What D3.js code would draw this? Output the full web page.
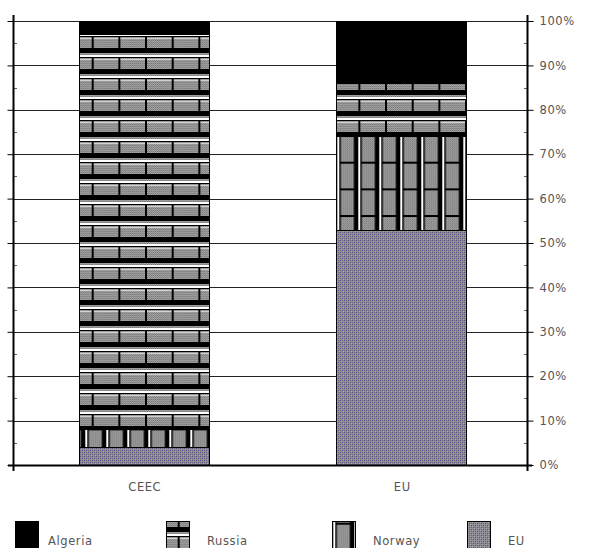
<!DOCTYPE html>
<html>
<head>
<meta charset="utf-8">
<script src="https://cdn.jsdelivr.net/npm/d3@7"></script>
<style>
  html, body { margin: 0; padding: 0; background: #fff; }
  svg { display: block; }
  text { font-family: "DejaVu Sans", sans-serif; fill: #555; }
</style>
</head>
<body>
<svg id="chart" width="591" height="548"></svg>
<script>
// ---- data ----
const categories = ["CEEC", "EU"];
const series = ["EU", "Norway", "Russia", "Algeria"];          // stacking order, bottom to top
const valuesEU      = [4, 53];
const valuesNorway  = [4, 21];
const valuesRussia  = [89, 12];
const valuesAlgeria = [3, 14];
const tickValues = [0, 10, 20, 30, 40, 50, 60, 70, 80, 90, 100];
const tickLabels = ["0%", "10%", "20%", "30%", "40%", "50%", "60%", "70%", "80%", "90%", "100%"];
const legendOrder = ["Algeria", "Russia", "Norway", "EU"];

const seriesValues = { EU: valuesEU, Norway: valuesNorway, Russia: valuesRussia, Algeria: valuesAlgeria };
const table = categories.map((c, i) => {
  const row = { cat: c };
  series.forEach(s => row[s] = seriesValues[s][i]);
  return row;
});

const svg = d3.select("#chart");
const defs = svg.append("defs");

// gray dotted texture
const dots = defs.append("pattern").attr("id", "dots").attr("patternUnits", "userSpaceOnUse")
  .attr("width", 2).attr("height", 2);
dots.append("rect").attr("width", 2).attr("height", 2).attr("fill", "#adadad");
dots.append("rect").attr("width", 1).attr("height", 1).attr("fill", "#6e6e6e");
dots.append("rect").attr("x", 1).attr("y", 1).attr("width", 1).attr("height", 1).attr("fill", "#808080");

// EU: gray/purple dots
const pEU = defs.append("pattern").attr("id", "pEU").attr("patternUnits", "userSpaceOnUse")
  .attr("width", 4).attr("height", 4);
pEU.append("rect").attr("width", 4).attr("height", 4).attr("fill", "#8f8c94");
pEU.append("rect").attr("width", 1).attr("height", 1).attr("fill", "#5e4aa0");
pEU.append("rect").attr("x", 2).attr("y", 2).attr("width", 1).attr("height", 1).attr("fill", "#5e4aa0");
pEU.append("rect").attr("x", 2).attr("y", 0).attr("width", 1).attr("height", 1).attr("fill", "#6a6a6a");
pEU.append("rect").attr("x", 0).attr("y", 2).attr("width", 1).attr("height", 1).attr("fill", "#6a6a6a");
pEU.append("rect").attr("x", 1).attr("y", 1).attr("width", 1).attr("height", 1).attr("fill", "#a8a4b0");
pEU.append("rect").attr("x", 3).attr("y", 3).attr("width", 1).attr("height", 1).attr("fill", "#a8a4b0");

// Russia: horizontal brick bands
const rw = 80 / 3, rh = 21;
const pR = defs.append("pattern").attr("id", "pRussia").attr("patternUnits", "userSpaceOnUse")
  .attr("width", rw).attr("height", rh).attr("x", 11.7).attr("y", 13);
pR.append("rect").attr("width", rw).attr("height", rh).attr("fill", "url(#dots)");
pR.append("rect").attr("y", 0).attr("width", rw).attr("height", 2).attr("fill", "#fff");
pR.append("rect").attr("y", 2).attr("width", rw).attr("height", 1).attr("fill", "#000");
pR.append("rect").attr("y", 4).attr("width", rw).attr("height", 1).attr("fill", "#d0d0d0");
pR.append("rect").attr("y", 14).attr("width", rw).attr("height", 5).attr("fill", "#000");
pR.append("rect").attr("x", 0).attr("y", 2).attr("width", 2).attr("height", 17).attr("fill", "#000");

// Norway: vertical brick bands
const nw = 21, nh = 80 / 3;
const pN = defs.append("pattern").attr("id", "pNorway").attr("patternUnits", "userSpaceOnUse")
  .attr("width", nw).attr("height", nh).attr("x", 1.3).attr("y", 1.7);
pN.append("rect").attr("width", nw).attr("height", nh).attr("fill", "url(#dots)");
pN.append("rect").attr("x", 0).attr("width", 2).attr("height", nh).attr("fill", "#fff");
pN.append("rect").attr("x", 2).attr("width", 1.5).attr("height", nh).attr("fill", "#000");
pN.append("rect").attr("x", 16.5).attr("width", 4.5).attr("height", nh).attr("fill", "#000");
pN.append("rect").attr("x", 2).attr("y", 0).attr("width", 19).attr("height", 2).attr("fill", "#000");

const fills = { EU: "url(#pEU)", Norway: "url(#pNorway)", Russia: "url(#pRussia)", Algeria: "#000" };

// ---- scales ----
const xLeft = 13, xRight = 527;
const half = d3.scaleBand().domain(categories).range([15, 530]);
const barW = 130;
const y = d3.scaleLinear().domain([0, 100]).range([465, 21]);

// ---- grid lines ----
svg.append("g").selectAll("line").data(tickValues).join("line")
  .attr("x1", xLeft).attr("x2", xRight)
  .attr("y1", d => Math.round(y(d)) + 0.5).attr("y2", d => Math.round(y(d)) + 0.5)
  .attr("stroke", "#222").attr("stroke-width", 1);

// ---- bars ----
const stack = d3.stack().keys(series)(table);
const barG = svg.append("g");
stack.forEach(layer => {
  barG.append("g").selectAll("rect").data(layer).join("rect")
    .attr("x", d => Math.round(half(d.data.cat) + half.bandwidth() / 2 - barW / 2) + 0.5)
    .attr("width", barW)
    .attr("y", d => Math.round(y(d[1])) + 0.5)
    .attr("height", d => Math.round(y(d[0])) - Math.round(y(d[1])))
    .attr("fill", fills[layer.key])
    .attr("stroke", "#000").attr("stroke-width", 1);
});

// ---- axes ----
const yAxisL = d3.axisLeft(y).tickValues(tickValues).tickSize(6).tickFormat("");
const gL = svg.append("g").attr("transform", `translate(${xLeft + 0.5},0)`).call(yAxisL);
const yAxisR = d3.axisRight(y).tickValues(tickValues).tickSize(6)
  .tickFormat((d, i) => tickLabels[i]);
const gR = svg.append("g").attr("transform", `translate(${xRight + 0.5},0)`).call(yAxisR);
[gL, gR].forEach(g => {
  g.select(".domain").remove();
  g.selectAll(".tick line").attr("stroke", "#000").attr("stroke-width", 1);
});
gR.selectAll(".tick text").attr("x", 12).attr("font-size", 11.5).attr("letter-spacing", 0.6)
  .attr("fill", "#555").attr("font-family", "DejaVu Sans, sans-serif");
// minor ticks
const minor = d3.range(5, 100, 10);
svg.append("g").selectAll("line").data(minor).join("line")
  .attr("x1", xLeft + 1).attr("x2", xLeft + 4)
  .attr("y1", d => Math.round(y(d)) + 0.5).attr("y2", d => Math.round(y(d)) + 0.5)
  .attr("stroke", "#666");
svg.append("g").selectAll("line").data(minor).join("line")
  .attr("x1", xRight - 3).attr("x2", xRight)
  .attr("y1", d => Math.round(y(d)) + 0.5).attr("y2", d => Math.round(y(d)) + 0.5)
  .attr("stroke", "#666");
// axis spines
svg.append("line").attr("x1", xLeft + 0.5).attr("x2", xLeft + 0.5).attr("y1", 15).attr("y2", 471)
  .attr("stroke", "#000").attr("stroke-width", 2);
svg.append("line").attr("x1", xRight + 0.5).attr("x2", xRight + 0.5).attr("y1", 15).attr("y2", 471)
  .attr("stroke", "#000").attr("stroke-width", 2);
svg.append("line").attr("x1", xLeft - 5).attr("x2", xRight + 5).attr("y1", 465.5).attr("y2", 465.5)
  .attr("stroke", "#000").attr("stroke-width", 2);

// category labels
svg.append("g").selectAll("text").data(categories).join("text")
  .attr("x", d => half(d) + half.bandwidth() / 2 + 1)
  .attr("y", 491)
  .attr("text-anchor", "middle")
  .attr("font-size", 11.5).attr("letter-spacing", 0.6)
  .text(d => d);

// ---- legend ----
const legendX = [15, 166, 332, 467];
const lg = svg.append("g").selectAll("g").data(legendOrder).join("g")
  .attr("transform", (d, i) => `translate(${legendX[i]},521)`);
lg.append("rect").attr("x", 0.5).attr("y", 0.5).attr("width", 23).attr("height", 28)
  .attr("fill", d => fills[d]).attr("stroke", "#000");
lg.append("text").attr("x", d => d === "EU" ? 41 : (d === "Algeria" ? 33 : 41)).attr("y", 24)
  .attr("font-size", 11.5).attr("letter-spacing", 0.6)
  .text(d => d);
</script>
</body>
</html>
